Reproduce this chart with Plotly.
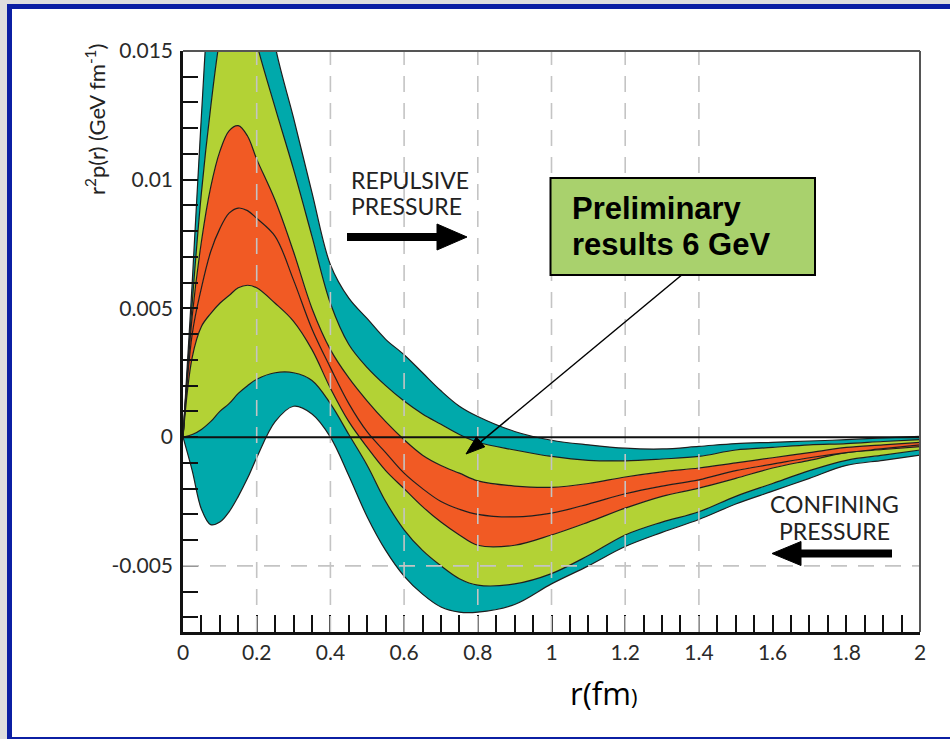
import plotly.graph_objects as go

# ---------------- data ----------------
r = [0, .025, .05, .075, .1, .125, .15, .175, .2, .25, .3, .35, .4, .45, .5, .55,
     .6, .65, .7, .75, .8, .9, 1.0, 1.1, 1.2, 1.3, 1.4, 1.5, 1.6, 1.7, 1.8, 1.9, 2.0]

outer_hi = [0, .0060, .0125, .0180, .0208, .0220, .0222, .0214, .0198, .0152, .0124, .0095,
            .0067, .0054, .0046, .0038, .0032, .0025, .0018, .0012, .0008, .00022, -.00012,
            -.0003, -.00043, -.00046, -.00036, -.00025, -.0002, -.00015, -.0001, -.00003, .00003]
mid_hi = [0, .0052, .0095, .0128, .0155, .0172, .0178, .0170, .0153, .0128, .0104, .0078,
          .0052, .0036, .0027, .0020, .0014, .0009, .0005, .0001, -.0002, -.0005, -.00075,
          -.0009, -.00092, -.00085, -.00075, -.0005, -.0004, -.0003, -.00025, -.00017, -.0001]
in_hi = [0, .0047, .0076, .0097, .0111, .0119, .0121, .0117, .0108, .0092, .0072, .0050,
         .0034, .0023, .0014, .0006, -.0001, -.0007, -.0011, -.0014, -.0017, -.0019, -.00195,
         -.0018, -.00155, -.00135, -.0012, -.001, -.0008, -.0006, -.0004, -.0003, -.0002]
center = [0, .0040, .0058, .0072, .0081, .0087, .0089, .0088, .0085, .0078, .0061, .0042,
          .0027, .0013, .0002, -.0006, -.0014, -.0020, -.0025, -.0028, -.0030, -.0031, -.00295,
          -.0026, -.0022, -.0019, -.00166, -.0013, -.00105, -.0008, -.0006, -.00045, -.0003]
in_lo = [0, .0031, .0043, .0048, .0052, .0055, .0058, .0059, .0058, .0052, .0045, .0034,
         .0019, .0006, -.0004, -.0013, -.0020, -.0027, -.0033, -.0038, -.0042, -.0042, -.0038,
         -.0033, -.00276, -.0023, -.00198, -.0016, -.0012, -.0009, -.0006, -.00048, -.00037]
mid_lo = [0, .0001, .0003, .0006, .0010, .0013, .0017, .0020, .00225, .0025, .0025, .0022,
          .0013, .0001, -.0011, -.0025, -.0036, -.0044, -.0050, -.0055, -.00575, -.0057, -.0053,
          -.0046, -.0038, -.0033, -.0029, -.0023, -.0018, -.0013, -.0009, -.0007, -.0005]
outer_lo = [0, -.0013, -.0028, -.0034, -.0033, -.0029, -.0023, -.0016, -.0008, .0006, .0012, .0009,
            .0000, -.0015, -.0031, -.0044, -.0054, -.0061, -.0066, -.0068, -.0068, -.0065, -.0057,
            -.0050, -.00425, -.0037, -.0032, -.0026, -.0021, -.0016, -.0011, -.0009, -.0007]

x_ticks = [0, 0.2, 0.4, 0.6, 0.8, 1.0, 1.2, 1.4, 1.6, 1.8, 2.0]
x_ticktext = ["0", "0.2", "0.4", "0.6", "0.8", "1", "1.2", "1.4", "1.6", "1.8", "2"]
y_ticks = [-0.005, 0, 0.005, 0.01, 0.015]
y_ticktext = ["-0.005", "0", "0.005", "0.01", "0.015"]
grid_x = [0.2, 0.4, 0.6, 0.8, 1.0, 1.2, 1.4]
grid_y = [-0.005]

TEAL = "#00a9ab"
GREEN = "#b3d235"
ORANGE = "#f15a24"
LINE = "#1e1e1e"

W, H = 950, 739
L, R, T, B = 183, 30, 51, 107
PW, PH = W - L - R, H - T - B


def px(xp):
    return (xp - L) / PW


def py(yp):
    return (H - B - yp) / PH


fig = go.Figure()

curves = [outer_lo, mid_lo, in_lo, center, in_hi, mid_hi, outer_hi]
fills = [None, TEAL, GREEN, ORANGE, ORANGE, GREEN, TEAL]
for ys, fc in zip(curves, fills):
    fig.add_trace(go.Scatter(
        x=r, y=ys, mode="lines",
        line=dict(color=LINE, width=1.2, shape="spline", smoothing=1.0),
        fill="tonexty" if fc else None,
        fillcolor=fc,
        hoverinfo="skip", showlegend=False))

shapes = []
# outer frame (blue border on light gray page)
shapes.append(dict(type="rect", xref="paper", yref="paper",
                   x0=px(9.5), x1=px(960), y0=py(6.5), y1=py(739.5),
                   fillcolor="white", line=dict(color="#0b1fa3", width=5), layer="below"))
# dashed grid on top of bands
for gx in grid_x:
    shapes.append(dict(type="line", xref="x", yref="paper", x0=gx, x1=gx, y0=0, y1=1,
                       line=dict(color="#c4c4c4", width=1.6, dash="16px,11px"), layer="above"))
for gy in grid_y:
    shapes.append(dict(type="line", xref="paper", yref="y", x0=0, x1=1, y0=gy, y1=gy,
                       line=dict(color="#c4c4c4", width=1.6, dash="16px,11px"), layer="above"))
# zero line
shapes.append(dict(type="line", xref="paper", yref="y", x0=0, x1=1, y0=0, y1=0,
                   line=dict(color="#111", width=2), layer="above"))
# top and right frame of the plot
shapes.append(dict(type="line", xref="paper", yref="paper", x0=0, x1=1, y0=1, y1=1,
                   line=dict(color="#555", width=2), layer="above"))
shapes.append(dict(type="line", xref="paper", yref="paper", x0=1, x1=1, y0=0, y1=1,
                   line=dict(color="#555", width=2), layer="above"))


# thick arrows
def thick_arrow(x_tail, x_tip, yc, head_len=30, head_half=13, width=8):
    s = 1 if x_tip > x_tail else -1
    base = x_tip - s * head_len
    out = [dict(type="line", xref="paper", yref="paper", x0=px(x_tail), x1=px(base + s * 2),
                y0=py(yc), y1=py(yc), line=dict(color="black", width=width), layer="above"),
           dict(type="path", xref="paper", yref="paper",
                path=f"M{px(base)},{py(yc - head_half)} L{px(x_tip)},{py(yc)} L{px(base)},{py(yc + head_half)} Z",
                fillcolor="black", line=dict(color="black", width=1), layer="above")]
    return out


shapes += thick_arrow(347, 467, 237)
shapes += thick_arrow(892, 772, 553.5, head_len=29, head_half=12)

# callout box
shapes.append(dict(type="rect", xref="paper", yref="paper",
                   x0=px(550.5), x1=px(815), y0=py(178), y1=py(275),
                   fillcolor="#a9d16d", line=dict(color="black", width=2), layer="above"))

# thin arrow from the box
sx, sy, tx, ty = 681.7, 275.0, 466.0, 454.0
dx, dy = tx - sx, ty - sy
ln = (dx * dx + dy * dy) ** 0.5
ux, uy = dx / ln, dy / ln
hl, hw = 19, 6.5
bx, by = tx - hl * ux, ty - hl * uy
nx, ny = -uy, ux
shapes.append(dict(type="line", xref="paper", yref="paper", x0=px(sx), y0=py(sy),
                   x1=px(bx), y1=py(by), line=dict(color="black", width=1.5), layer="above"))
shapes.append(dict(type="path", xref="paper", yref="paper",
                   path=f"M{px(tx)},{py(ty)} L{px(bx + hw * nx)},{py(by + hw * ny)} L{px(bx - hw * nx)},{py(by - hw * ny)} Z",
                   fillcolor="black", line=dict(color="black", width=1), layer="above"))

LABEL_FONT = "Lato"
annotations = [
    dict(text="REPULSIVE", x=px(349), y=py(180), xanchor="left", yanchor="middle"),
    dict(text="PRESSURE", x=px(349), y=py(206), xanchor="left", yanchor="middle"),
    dict(text="CONFINING", x=px(834), y=py(504), xanchor="center", yanchor="middle"),
    dict(text="PRESSURE", x=px(834), y=py(531), xanchor="center", yanchor="middle"),
]
for a in annotations:
    a.update(xref="paper", yref="paper", showarrow=False,
             font=dict(family=LABEL_FONT, size=23, color="#222"))

annotations += [
    dict(text="<b>Preliminary</b>", x=px(570), y=py(209), xref="paper", yref="paper",
         xanchor="left", yanchor="middle", showarrow=False,
         font=dict(family="Liberation Sans, Arial", size=31, color="black")),
    dict(text="<b>results 6 GeV</b>", x=px(570), y=py(244), xref="paper", yref="paper",
         xanchor="left", yanchor="middle", showarrow=False,
         font=dict(family="Liberation Sans, Arial", size=31, color="black")),
    dict(text="r<sup>2</sup>p(r) (GeV fm<sup>-1</sup>)", x=px(96), y=py(120), xref="paper", yref="paper",
         xanchor="center", yanchor="middle", textangle=-90, showarrow=False,
         font=dict(family=LABEL_FONT, size=22, color="#222")),
    dict(text="r(fm<span style='font-size:22px'>)</span>", x=px(603), y=py(693), xref="paper", yref="paper",
         xanchor="center", yanchor="middle", showarrow=False,
         font=dict(family="Open Sans", size=31, color="black")),
]

fig.update_layout(
    width=W, height=H,
    margin=dict(l=L, r=R, t=T, b=B, pad=0),
    paper_bgcolor="#dedede",
    plot_bgcolor="rgba(0,0,0,0)",
    shapes=shapes,
    annotations=annotations,
    showlegend=False,
    xaxis=dict(range=[0, 2], showgrid=False, zeroline=False,
               tickvals=x_ticks, ticktext=x_ticktext,
               ticks="inside", ticklen=17, tickwidth=2, tickcolor="#111",
               showline=True, linecolor="#111", linewidth=2.5,
               minor=dict(dtick=0.05, ticks="inside", ticklen=17, tickwidth=2, tickcolor="#111", showgrid=False),
               tickfont=dict(family=LABEL_FONT, size=21, color="#2a2a2a")),
    yaxis=dict(range=[-0.00757, 0.015], showgrid=False, zeroline=False,
               tickvals=y_ticks, ticktext=y_ticktext,
               ticks="inside", ticklen=15, tickwidth=2, tickcolor="#111",
               showline=True, linecolor="#111", linewidth=2.5,
               minor=dict(dtick=0.001, tick0=0, ticks="inside", ticklen=15, tickwidth=2, tickcolor="#111", showgrid=False),
               ticklabelstandoff=3,
               tickfont=dict(family=LABEL_FONT, size=21, color="#2a2a2a")),
)

fig.write_html("out.html")
